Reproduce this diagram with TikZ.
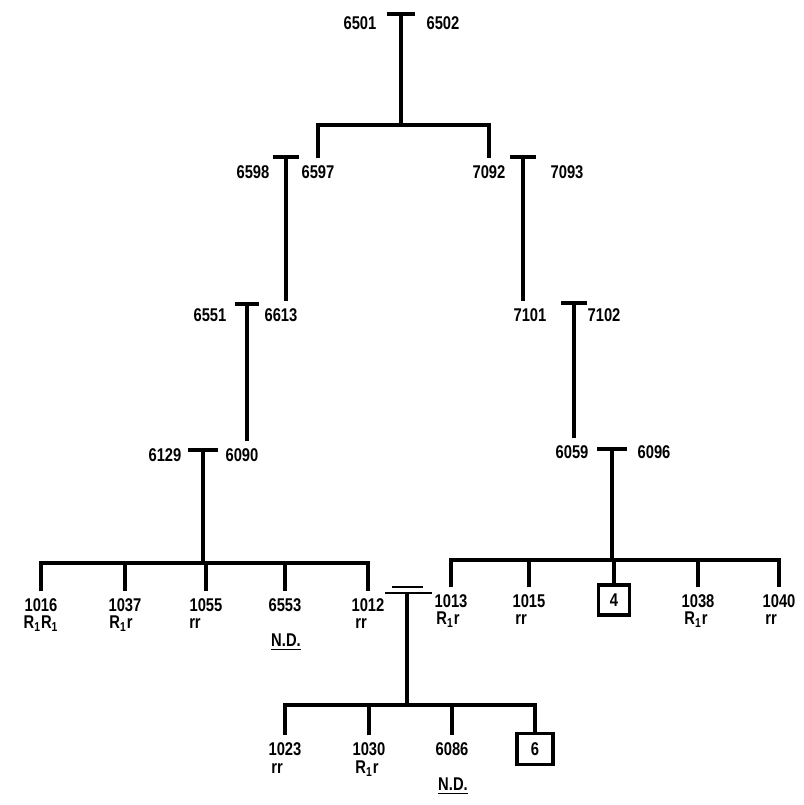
\documentclass[tikz,border=0pt]{standalone}
\usepackage{fontspec}
\setmainfont[FakeStretch=0.8]{Liberation Sans}
\usetikzlibrary{positioning,calc}

\tikzset{
  pline/.style={line width=1.9pt},
  pers/.style={font=\bfseries\fontsize{10.5}{11}\selectfont,inner sep=1pt,outer sep=3pt},
  geno/.style={font=\bfseries\fontsize{10.5}{11}\selectfont,inner sep=1pt},
  pbox/.style={draw,line width=1.9pt,inner sep=0pt,outer sep=0pt,
    font=\bfseries\fontsize{10.5}{11}\selectfont},
}

\begin{document}
\begin{tikzpicture}[x=0.02cm,y=-0.02cm]
\useasboundingbox (0,0) rectangle (804,805);
% ---------- first generation
\node[pers] (p6501) at (360,23){6501};
\node[pers] (p6502) at (443,23){6502};
\coordinate (m1) at (401,14);
\coordinate (s1) at (401,125);
\draw[pline] (m1) ++(-14,0) -- ++(28,0);
\draw[pline] (m1) -- (s1);
% ---------- second generation
\node[pers] (p6598) at (253,172){6598};
\node[pers] (p6597) at (318,172){6597};
\node[pers] (p7092) at (489,172){7092};
\node[pers] (p7093) at (567,172){7093};
\draw[pline] (p6597.north) |- (s1) -| (p7092.north);
\coordinate (m2) at (286,157);
\coordinate (m3) at (523,157);
\draw[pline] (m2) ++(-13,0) -- ++(26,0);
\draw[pline] (m3) ++(-13,0) -- ++(26,0);
% ---------- third generation
\node[pers] (p6551) at (210,315){6551};
\node[pers] (p6613) at (281,315){6613};
\node[pers] (p7101) at (530,315){7101};
\node[pers] (p7102) at (604,315){7102};
\draw[pline] (m2) -- (m2 |- p6613.north);
\draw[pline] (m3) -- (m3 |- p7101.north);
\coordinate (m4) at (247,304);
\coordinate (m5) at (574,303);
\draw[pline] (m4) ++(-12,0) -- ++(24,0);
\draw[pline] (m5) ++(-13,0) -- ++(26,0);
% ---------- fourth generation
\node[pers] (p6129) at (165,455){6129};
\node[pers] (p6090) at (242,455){6090};
\node[pers] (p6059) at (572,452){6059};
\node[pers] (p6096) at (654,452){6096};
\draw[pline] (m4) -- (m4 |- p6090.north);
\draw[pline] (m5) -- (m5 |- p6059.north);
\coordinate (m6) at (203,450);
\coordinate (m7) at (612,449);
\draw[pline] (m6) ++(-15,0) -- ++(30,0);
\draw[pline] (m7) ++(-15,0) -- ++(30,0);
\coordinate (sL) at (203,563);
\coordinate (sR) at (612,560);
\draw[pline] (m6) -- (sL);
\draw[pline] (m7) -- (sR);
% ---------- left sibship
\node[pers] (p1016) at (41,605){1016};
\node[pers] (p1037) at (125,605){1037};
\node[pers] (p1055) at (206,605){1055};
\node[pers] (p6553) at (285,605){6553};
\node[pers] (p1012) at (368,605){1012};
\node[geno] (g1016) at (41,624){R\textsubscript{1}R\textsubscript{1}};
\node[geno] (g1037) at (121,624){R\textsubscript{1}r};
\node[geno] (g1055) at (195,624){rr};
\node[geno] (nd1) at (286,642){\underline{N.D.}};
\node[geno] (g1012) at (361,624){rr};
\draw[pline] (p1016.north) |- (sL) -| (p1012.north);
\foreach \c in {p1037,p1055,p6553}
  \draw[pline] (\c.north) -- (\c.north |- sL);
% ---------- right sibship
\node[pers] (p1013) at (451,601){1013};
\node[pers] (p1015) at (529,601){1015};
\node[pbox,minimum width=0.62cm,minimum height=0.6cm] (box4) at (614,600){4};
\node[pers] (p1038) at (698,601){1038};
\node[pers] (p1040) at (779,601){1040};
\node[geno] (g1013) at (448,620){R\textsubscript{1}r};
\node[geno] (g1015) at (521,620){rr};
\node[geno] (g1038) at (696,620){R\textsubscript{1}r};
\node[geno] (g1040) at (771,620){rr};
\draw[pline] (p1013.north) |- (sR) -| (p1040.north);
\foreach \c in {p1015,box4,p1038}
  \draw[pline] (\c.north) -- (\c.north |- sR);
% ---------- marriage 1012 = 1013
\coordinate (m8) at (407,593);
\coordinate (sB) at (407,705);
\draw[line width=1.6pt] (m8) ++(-22,0) -- ++(47,0);
\draw[line width=1.6pt] (m8) ++(-15,-6) -- ++(31,0);
\draw[pline] (m8) -- (sB);
% ---------- bottom sibship
\node[pers] (p1023) at (285,749){1023};
\node[pers] (p1030) at (369,749){1030};
\node[pers] (p6086) at (452,749){6086};
\node[pbox,minimum width=0.72cm,minimum height=0.62cm] (box6) at (535,749){6};
\node[geno] (g1023) at (277,769){rr};
\node[geno] (g1030) at (367,769){R\textsubscript{1}r};
\node[geno] (nd2) at (453,786){\underline{N.D.}};
\draw[pline] (p1023.north) |- (sB) -| (box6.north);
\foreach \c in {p1030,p6086}
  \draw[pline] (\c.north) -- (\c.north |- sB);
\end{tikzpicture}
\end{document}
